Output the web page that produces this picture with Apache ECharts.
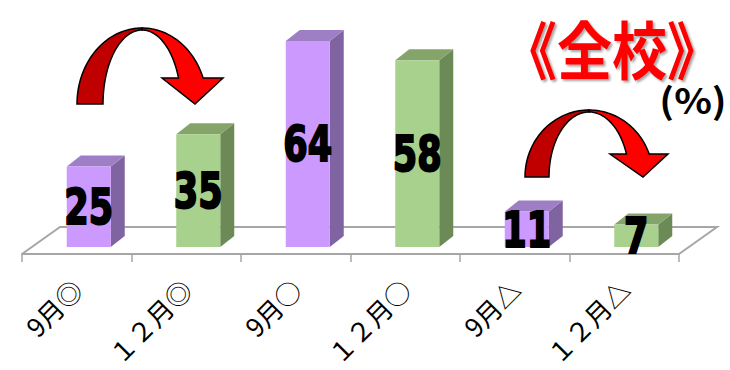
<!DOCTYPE html>
<html>
<head>
<meta charset="utf-8">
<script src="https://cdn.jsdelivr.net/npm/echarts@6/dist/echarts.min.js"></script>
<style>
html,body{margin:0;padding:0;background:#ffffff;}
#chart{width:730px;height:370px;}
</style>
</head>
<body>
<div id="chart"></div>
<script>
// ---- data ----
const categories = ['9月◎', '１２月◎', '9月○', '１２月○', '9月△', '１２月△'];
const values = [25, 35, 64, 58, 11, 7];
const periodOfBar = [0, 1, 0, 1, 0, 1]; // 0 = 9月, 1 = 12月
const titleText = '《全校》';
const unitText = '(%)';

// ---- styles ----
const palettes = [
  { front: '#CC99FF', side: '#8064A2', top: '#9E7FC6' },
  { front: '#A9D18E', side: '#6C8A55', top: '#85A46A' }
];
const BAR_W = 44, FACE_OFF = -10, LIFT = -7, DX = 14, DY = -11;
const GRID = { left: 22, right: 51, top: 12.5, bottom: 116, containLabel: false, outerBoundsMode: 'none' };
const FLOOR_DX = 38, FLOOR_DY = -27;

const chart = echarts.init(document.getElementById('chart'), null, { renderer: 'svg' });

function ellipsePts(cx, cy, rx, ry, a0, a1, n) {
  const pts = [];
  for (let k = 0; k <= n; k++) {
    const t = a0 + (a1 - a0) * k / n;
    pts.push([cx + rx * Math.cos(t), cy + ry * Math.sin(t)]);
  }
  return pts;
}
function arrow(cx, cy, rxO, ryO, rxI, ryI, endY, head) {
  const top = 1.5 * Math.PI;
  const dark = ellipsePts(cx, cy, rxO, ryO, Math.PI, top, 40)
    .concat(ellipsePts(cx, cy, rxI, ryI, top, Math.PI, 40));
  const eO = 2 * Math.PI - Math.asin((cy - endY) / ryO);
  const eI = 2 * Math.PI - Math.asin((cy - endY) / ryI);
  const bright = ellipsePts(cx, cy, rxO, ryO, top, eO, 40)
    .concat([head[0], head[1], head[2]])
    .concat(ellipsePts(cx, cy, rxI, ryI, eI, top, 40));
  const st = { stroke: '#000', lineWidth: 1.5, lineJoin: 'miter' };
  return [
    { type: 'polygon', z: 5, shape: { points: dark }, style: Object.assign({ fill: '#C00000' }, st) },
    { type: 'polygon', z: 6, shape: { points: bright }, style: Object.assign({ fill: '#FF0000' }, st) }
  ];
}

const floorFrontY = 370 - GRID.bottom;
const floorL = GRID.left, floorR = 730 - GRID.right;

const option = {
  animation: false,
  backgroundColor: '#ffffff',
  grid: GRID,
  xAxis: {
    type: 'category',
    data: categories,
    boundaryGap: true,
    axisLine: { show: true, lineStyle: { color: '#A6A6A6', width: 2 } },
    axisTick: { show: true, length: 8, lineStyle: { color: '#A6A6A6', width: 1.5 } },
    axisLabel: {
      interval: 0, rotate: 45, margin: 30,
      fontSize: 26, color: '#000',
      fontFamily: '"Noto Sans CJK JP", sans-serif'
    },
    splitLine: { show: false }
  },
  yAxis: {
    type: 'value', min: 0, max: 75, show: false,
    splitLine: { show: false }
  },
  graphic: [
    {
      type: 'polyline', z: 0, silent: true,
      shape: { points: [[floorL, floorFrontY], [floorL + FLOOR_DX, floorFrontY + FLOOR_DY],
                        [floorR + FLOOR_DX, floorFrontY + FLOOR_DY], [floorR, floorFrontY]] },
      style: { stroke: '#A6A6A6', lineWidth: 2, fill: null }
    },
    ...arrow(142, 104, 65, 76, 39, 74, 78, [[223, 78], [195, 104], [162, 78]]),
    ...arrow(589, 177, 64, 67, 40, 65, 154, [[668, 154], [643, 177], [610, 154]]),
    {
      type: 'text', z: 10, x: 612, y: 46, scaleX: 0.875,
      style: {
        text: titleText, fill: '#FF0000',
        font: 'bold 63px "Noto Sans CJK JP", sans-serif',
        textAlign: 'center', textVerticalAlign: 'middle',
        textShadowColor: 'rgba(0,0,0,0.35)', textShadowOffsetX: 2, textShadowOffsetY: 2, textShadowBlur: 2
      }
    },
    {
      type: 'text', z: 10, x: 693, y: 99, scaleX: 1.12,
      style: {
        text: unitText, fill: '#000',
        font: 'bold 35px "Noto Sans CJK JP", sans-serif',
        textAlign: 'center', textVerticalAlign: 'middle'
      }
    }
  ],
  series: [{
    type: 'custom',
    z: 2,
    data: values.map((v, i) => [i, v]),
    encode: { x: 0, y: 1 },
    renderItem: function (params, api) {
      const i = api.value(0), v = api.value(1);
      const base = api.coord([i, 0]);
      const tp = api.coord([i, v]);
      const x0 = base[0] + FACE_OFF, x1 = x0 + BAR_W;
      const yb = base[1] + LIFT, yt = tp[1] + LIFT;
      const pal = palettes[periodOfBar[i]];
      return {
        type: 'group',
        children: [
          { type: 'polygon', shape: { points: [[x1, yb], [x1 + DX, yb + DY], [x1 + DX, yt + DY], [x1, yt]] }, style: { fill: pal.side } },
          { type: 'polygon', shape: { points: [[x0, yt], [x1, yt], [x1 + DX, yt + DY], [x0 + DX, yt + DY]] }, style: { fill: pal.top } },
          { type: 'rect', shape: { x: x0, y: yt, width: BAR_W, height: yb - yt }, style: { fill: pal.front } },
          {
            type: 'text', x: (x0 + x1) / 2, y: (yt + yb) / 2, scaleX: 0.78,
            style: {
              text: String(v), fill: '#000', stroke: '#000', lineWidth: 2,
              font: 'bold 50px "Liberation Sans Narrow", "DejaVu Sans Condensed", sans-serif',
              textAlign: 'center', textVerticalAlign: 'middle'
            }
          }
        ]
      };
    }
  }]
};
chart.setOption(option);
</script>
</body>
</html>
